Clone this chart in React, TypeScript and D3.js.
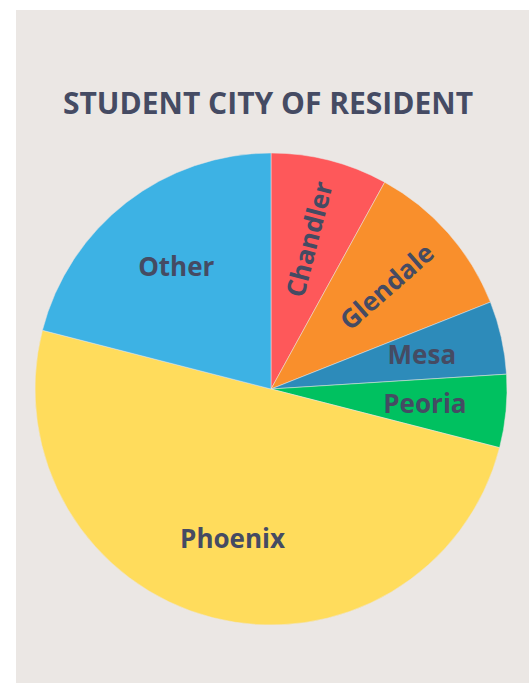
import React, { useRef, useEffect } from 'react';
import * as d3 from 'd3';

const cities = ['Chandler', 'Glendale', 'Mesa', 'Peoria', 'Phoenix', 'Other'];
const shares = [8, 11, 5, 5, 50, 21];
const sliceColors = ['#fe585a', '#f98f2c', '#2d8bba', '#00c160', '#ffdc5c', '#3db2e4'];
// labels that run along the radius instead of sitting flat
const radialLabels = ['Chandler', 'Glendale'];

const W = 529;
const H = 683;

const App = () => {
    const svgRef = useRef(null);

    useEffect(() => {
        if (!svgRef.current) {
            return;
        }
        const svg = d3.select(svgRef.current);
        svg.selectAll('*').remove();

        const textColor = '#454b63';
        const cx = 271;
        const cy = 389;
        const radius = 236;

        svg.append('rect')
            .attr('x', 16)
            .attr('y', 10)
            .attr('width', W - 16)
            .attr('height', H - 10)
            .attr('fill', '#ebe7e4');

        svg.append('text')
            .attr('x', 268)
            .attr('y', 114)
            .attr('text-anchor', 'middle')
            .style('font-family', '"Open Sans", sans-serif')
            .style('font-weight', 700)
            .style('font-size', '30px')
            .attr('fill', textColor)
            .text('STUDENT CITY OF RESIDENT');

        const data = cities.map((c, i) => ({ city: c, value: shares[i], color: sliceColors[i] }));

        const pie = d3.pie()
            .value(d => d.value)
            .sort(null);

        const arc = d3.arc().innerRadius(0).outerRadius(radius);
        const labelArc = d3.arc().innerRadius(radius * 0.655).outerRadius(radius * 0.655);

        const g = svg.append('g').attr('transform', `translate(${cx},${cy})`);
        const arcs = pie(data);

        g.selectAll('path')
            .data(arcs)
            .join('path')
            .attr('d', arc)
            .attr('fill', d => d.data.color)
            .attr('stroke', '#ebe7e4')
            .attr('stroke-width', 0.5);

        g.selectAll('text')
            .data(arcs)
            .join('text')
            .attr('transform', d => {
                const [x, y] = labelArc.centroid(d);
                const mid = ((d.startAngle + d.endAngle) / 2) * 180 / Math.PI;
                const rot = radialLabels.includes(d.data.city) ? mid - 90 : 0;
                return `translate(${x},${y}) rotate(${rot})`;
            })
            .attr('text-anchor', 'middle')
            .attr('dy', '0.35em')
            .style('font-family', '"Open Sans", sans-serif')
            .style('font-weight', 700)
            .style('font-size', '26px')
            .attr('fill', textColor)
            .text(d => d.data.city);
    }, []);

    return (
        <svg
            ref={svgRef}
            width={W}
            height={H}
            style={{ position: 'absolute', left: 0, top: 0, display: 'block' }}
        ></svg>
    );
};

export default App;
